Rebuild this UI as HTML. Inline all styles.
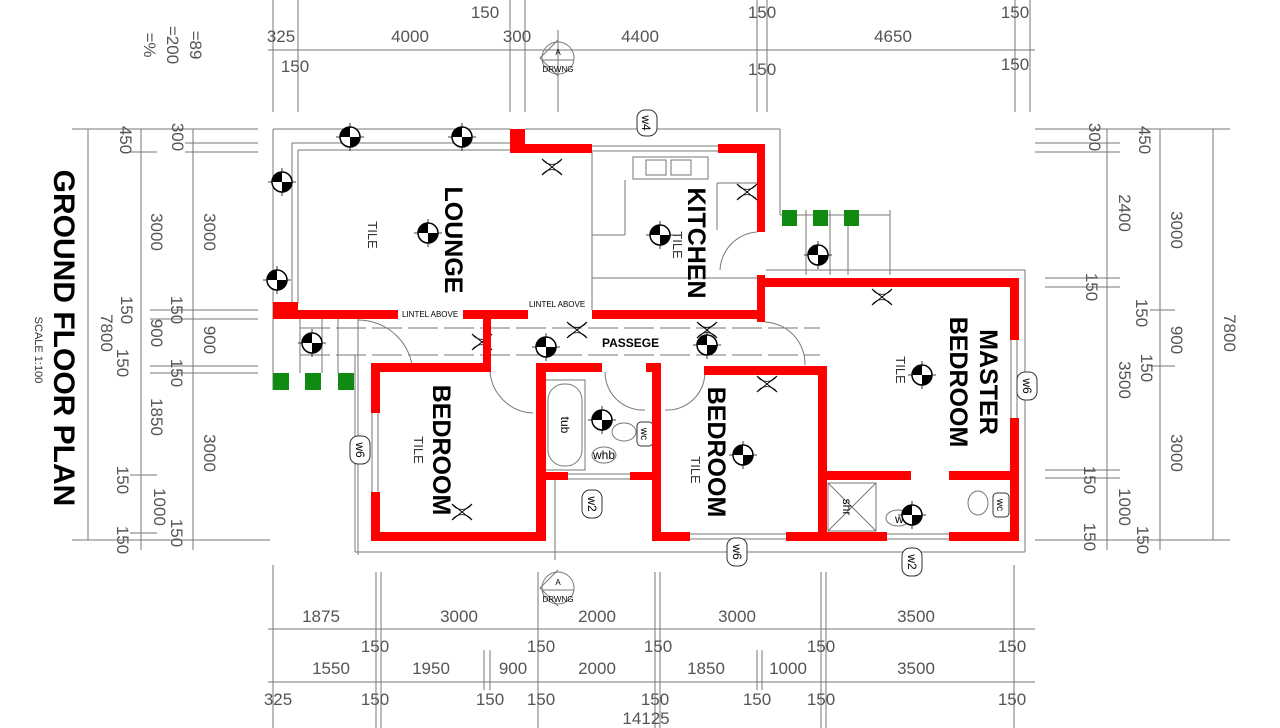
<!DOCTYPE html>
<html><head><meta charset="utf-8"><style>
html,body{margin:0;padding:0;background:#fff;}
svg{display:block;}
.d{font-family:"Liberation Sans",sans-serif;font-size:17px;fill:#555;}
.b{font-family:"Liberation Sans",sans-serif;font-weight:bold;fill:#000;}
</style></head><body>
<svg width="1280" height="728" viewBox="0 0 1280 728" xmlns="http://www.w3.org/2000/svg">
<defs>
<symbol id="L" viewBox="-12 -12 24 24" overflow="visible">
<line x1="-14" y1="0" x2="14" y2="0" stroke="#000" stroke-width="0.8"/>
<line x1="0" y1="-14" x2="0" y2="14" stroke="#000" stroke-width="0.8"/>
<circle r="10" fill="#fff" stroke="#000" stroke-width="1.5"/>
<path d="M0 0 L10 0 A10 10 0 0 1 0 10Z M0 0 L-10 0 A10 10 0 0 1 0 -10Z" fill="#000"/>
</symbol>
<symbol id="P" viewBox="0 0 24 30" overflow="visible">
<path d="M2 4 L12 12 L22 4 M2 20 L12 12 L22 20" stroke="#000" fill="none" stroke-width="1"/>
<path d="M2 4 A12 12 0 0 0 22 4 M2 20 A12 12 0 0 1 22 20" stroke="#000" fill="none" stroke-width="0.7"/>
</symbol>
</defs>
<g stroke="#777" stroke-width="1" fill="none">
<line x1="268" y1="50" x2="1035" y2="50"/>
<line x1="273" y1="0" x2="273" y2="112"/><line x1="298" y1="0" x2="298" y2="112"/>
<line x1="510" y1="0" x2="510" y2="112"/><line x1="525" y1="0" x2="525" y2="112"/>
<line x1="558" y1="30" x2="558" y2="112"/>
<line x1="757" y1="0" x2="757" y2="112"/><line x1="767" y1="0" x2="767" y2="112"/>
<line x1="1015" y1="0" x2="1015" y2="112"/><line x1="1030" y1="0" x2="1030" y2="112"/>
<line x1="88" y1="129" x2="88" y2="540"/><line x1="141" y1="129" x2="141" y2="550"/><line x1="193" y1="129" x2="193" y2="550"/>
<line x1="72" y1="129" x2="258" y2="129"/><line x1="72" y1="540" x2="270" y2="540"/>
<line x1="185" y1="143" x2="258" y2="143"/><line x1="185" y1="152" x2="258" y2="152"/>
<line x1="130" y1="152" x2="157" y2="152"/>
<line x1="150" y1="310" x2="258" y2="310"/><line x1="150" y1="319" x2="258" y2="319"/>
<line x1="150" y1="366" x2="258" y2="366"/><line x1="150" y1="373" x2="258" y2="373"/>
<line x1="130" y1="475" x2="157" y2="475"/><line x1="130" y1="533" x2="157" y2="533"/>
<line x1="1107" y1="129" x2="1107" y2="550"/><line x1="1160" y1="129" x2="1160" y2="550"/><line x1="1213" y1="129" x2="1213" y2="540"/>
<line x1="1035" y1="129" x2="1230" y2="129"/><line x1="1035" y1="540" x2="1230" y2="540"/>
<line x1="1035" y1="143" x2="1120" y2="143"/><line x1="1035" y1="152" x2="1120" y2="152"/>
<line x1="1045" y1="278" x2="1120" y2="278"/><line x1="1045" y1="287" x2="1120" y2="287"/>
<line x1="1045" y1="470" x2="1120" y2="470"/><line x1="1045" y1="478" x2="1120" y2="478"/>
<line x1="1150" y1="310" x2="1175" y2="310"/><line x1="1150" y1="366" x2="1175" y2="366"/>
<line x1="268" y1="629" x2="1035" y2="629"/><line x1="268" y1="682" x2="1035" y2="682"/>
<line x1="273" y1="565" x2="273" y2="728"/><line x1="376" y1="572" x2="376" y2="728"/><line x1="381" y1="572" x2="381" y2="728"/>
<line x1="538" y1="572" x2="538" y2="728"/><line x1="655" y1="572" x2="655" y2="728"/><line x1="660" y1="572" x2="660" y2="728"/>
<line x1="821" y1="572" x2="821" y2="728"/><line x1="826" y1="572" x2="826" y2="728"/>
<line x1="1014" y1="565" x2="1014" y2="728"/><line x1="484" y1="650" x2="484" y2="690"/><line x1="490" y1="650" x2="490" y2="690"/>
<line x1="757" y1="650" x2="757" y2="690"/><line x1="762" y1="650" x2="762" y2="690"/>
<line x1="273" y1="129" x2="510" y2="129"/><line x1="273" y1="129" x2="273" y2="390"/>
<line x1="292" y1="143" x2="510" y2="143"/><line x1="292" y1="143" x2="292" y2="303"/>
<line x1="298" y1="150" x2="510" y2="150"/><line x1="298" y1="150" x2="298" y2="303"/>
<line x1="525" y1="129" x2="780" y2="129"/><line x1="780" y1="129" x2="780" y2="215"/>
<line x1="766" y1="270" x2="1025" y2="270"/><line x1="1025" y1="270" x2="1025" y2="552"/>
<line x1="355" y1="552" x2="1025" y2="552"/><line x1="355" y1="355" x2="355" y2="552"/>
<line x1="300" y1="328" x2="820" y2="328" stroke-dasharray="30 6"/><line x1="300" y1="355" x2="820" y2="355" stroke-dasharray="30 6"/>
<line x1="555" y1="480" x2="555" y2="560"/>
<line x1="625" y1="180" x2="625" y2="235"/><line x1="592" y1="235" x2="625" y2="235"/>
<line x1="592" y1="278" x2="757" y2="278"/><line x1="592" y1="152" x2="592" y2="310"/>
<line x1="717" y1="183" x2="757" y2="183"/><line x1="717" y1="183" x2="717" y2="230"/>
<line x1="358" y1="319" x2="358" y2="555"/>
<path d="M757 232 A40 40 0 0 0 720 270"/>
<path d="M358 320 A55 55 0 0 1 413 372"/>
<path d="M490 372 A45 45 0 0 0 533 413"/>
<path d="M605 372 A38 38 0 0 0 645 410"/>
<path d="M705 372 A38 38 0 0 1 665 410"/>
<path d="M765 322 A42 42 0 0 1 805 365"/>
<line x1="300" y1="319" x2="300" y2="373"/><line x1="322" y1="319" x2="322" y2="373"/><line x1="338" y1="319" x2="338" y2="373"/>
<line x1="806" y1="210" x2="806" y2="275"/><line x1="830" y1="210" x2="830" y2="275"/><line x1="848" y1="210" x2="848" y2="275"/>
<line x1="780" y1="215" x2="890" y2="215"/><line x1="890" y1="210" x2="890" y2="275"/>
<circle cx="558" cy="58" r="16"/><line x1="542" y1="60" x2="574" y2="60"/><path d="M558 40 L540 58 L558 76"/>
<circle cx="558" cy="588" r="16"/><line x1="542" y1="590" x2="574" y2="590"/><path d="M558 570 L540 588 L558 606"/>
<rect x="548" y="384" width="34" height="82" rx="16"/>
<rect x="545" y="380" width="40" height="90"/>
<ellipse cx="624" cy="432" rx="12" ry="9"/><ellipse cx="604" cy="455" rx="12" ry="8"/>
<ellipse cx="978" cy="503" rx="10" ry="12"/><ellipse cx="898" cy="518" rx="12" ry="8"/>
<rect x="828" y="483" width="48" height="48"/><line x1="828" y1="483" x2="876" y2="531"/><line x1="876" y1="483" x2="828" y2="531"/>
<rect x="633" y="157" width="75" height="22"/><rect x="646" y="160" width="20" height="15"/><rect x="671" y="160" width="20" height="15"/>
<line x1="592" y1="146" x2="718" y2="146"/><line x1="592" y1="151" x2="718" y2="151"/>
<line x1="372" y1="413" x2="372" y2="492"/><line x1="378" y1="413" x2="378" y2="492"/>
<line x1="568" y1="474" x2="630" y2="474"/><line x1="568" y1="479" x2="630" y2="479"/>
<line x1="690" y1="534" x2="786" y2="534"/><line x1="690" y1="539" x2="786" y2="539"/>
<line x1="887" y1="534" x2="949" y2="534"/><line x1="887" y1="539" x2="949" y2="539"/>
<line x1="1011" y1="340" x2="1011" y2="418"/><line x1="1017" y1="340" x2="1017" y2="418"/>
</g>
<use href="#P" x="540" y="155" width="24" height="30"/>
<use href="#P" x="735" y="180" width="24" height="30"/>
<use href="#P" x="870" y="285" width="24" height="30"/>
<use href="#P" x="470" y="330" width="24" height="30"/>
<use href="#P" x="565" y="318" width="24" height="30"/>
<use href="#P" x="695" y="318" width="24" height="30"/>
<use href="#P" x="755" y="372" width="24" height="30"/>
<use href="#P" x="450" y="500" width="24" height="30"/>
<g fill="#fff" stroke="#333" stroke-width="1">
<rect x="637" y="110" width="20" height="26" rx="8"/>
<rect x="350" y="436" width="20" height="28" rx="8"/>
<rect x="582" y="490" width="20" height="28" rx="8"/>
<rect x="727" y="538" width="20" height="28" rx="8"/>
<rect x="902" y="548" width="20" height="28" rx="8"/>
<rect x="1017" y="372" width="20" height="28" rx="8"/>
<rect x="637" y="422" width="16" height="24" rx="4"/>
<rect x="993" y="493" width="16" height="24" rx="4"/>
</g>
<g font-family="Liberation Sans, sans-serif" font-size="12" fill="#000">
<text transform="translate(642,123) rotate(90)" text-anchor="middle">w4</text>
<text transform="translate(356,450) rotate(90)" text-anchor="middle">w6</text>
<text transform="translate(588,504) rotate(90)" text-anchor="middle">w2</text>
<text transform="translate(733,552) rotate(90)" text-anchor="middle">w6</text>
<text transform="translate(908,562) rotate(90)" text-anchor="middle">w2</text>
<text transform="translate(1023,386) rotate(90)" text-anchor="middle">w6</text>
<text transform="translate(641,434) rotate(90)" text-anchor="middle" font-size="10">wc</text>
<text transform="translate(997,505) rotate(90)" text-anchor="middle" font-size="10">wc</text>
<text transform="translate(561,425) rotate(90)" text-anchor="middle">tub</text>
<text x="604" y="459" text-anchor="middle">whb</text>
<text x="906" y="523" text-anchor="middle">whb</text>
<text transform="translate(843,507) rotate(90)" text-anchor="middle">shr</text>
<text x="558" y="55" text-anchor="middle" font-size="8">A</text><text x="558" y="72" text-anchor="middle" font-size="8">DRWNG</text>
<text x="558" y="585" text-anchor="middle" font-size="8">A</text><text x="558" y="602" text-anchor="middle" font-size="8">DRWNG</text>
<text x="402" y="317" font-size="8">LINTEL ABOVE</text>
<text x="529" y="307" font-size="8">LINTEL ABOVE</text>
</g>
<g fill="#f00">
<rect x="510" y="129" width="15" height="24"/>
<rect x="510" y="144" width="82" height="9"/>
<rect x="718" y="144" width="47" height="9"/>
<rect x="757" y="144" width="8" height="88"/>
<rect x="757" y="275" width="8" height="47"/>
<rect x="757" y="278" width="262" height="9"/>
<rect x="1010" y="278" width="9" height="62"/>
<rect x="1010" y="418" width="9" height="122"/>
<rect x="273" y="302" width="25" height="17"/>
<rect x="273" y="310" width="125" height="9"/>
<rect x="463" y="310" width="65" height="9"/>
<rect x="592" y="310" width="173" height="9"/>
<rect x="483" y="310" width="8" height="62"/>
<rect x="371" y="363" width="120" height="9"/>
<rect x="371" y="363" width="9" height="50"/>
<rect x="371" y="492" width="9" height="48"/>
<rect x="371" y="532" width="175" height="9"/>
<rect x="536" y="363" width="10" height="177"/>
<rect x="536" y="363" width="66" height="9"/>
<rect x="646" y="363" width="15" height="9"/>
<rect x="652" y="363" width="9" height="177"/>
<rect x="536" y="472" width="32" height="8"/>
<rect x="630" y="472" width="30" height="8"/>
<rect x="704" y="366" width="123" height="9"/>
<rect x="818" y="366" width="9" height="174"/>
<rect x="652" y="532" width="38" height="9"/>
<rect x="786" y="532" width="101" height="9"/>
<rect x="949" y="532" width="70" height="9"/>
<rect x="818" y="471" width="93" height="9"/>
<rect x="949" y="471" width="70" height="9"/>
</g>
<g fill="#118a11">
<rect x="273" y="373" width="16" height="17"/><rect x="305" y="373" width="16" height="17"/><rect x="338" y="373" width="16" height="17"/>
<rect x="782" y="210" width="15" height="16"/><rect x="813" y="210" width="15" height="16"/><rect x="844" y="210" width="15" height="16"/>
</g>
<use href="#L" x="338" y="125" width="24" height="24"/>
<use href="#L" x="450" y="125" width="24" height="24"/>
<use href="#L" x="270" y="170" width="24" height="24"/>
<use href="#L" x="265" y="268" width="24" height="24"/>
<use href="#L" x="416" y="221" width="24" height="24"/>
<use href="#L" x="648" y="223" width="24" height="24"/>
<use href="#L" x="806" y="243" width="24" height="24"/>
<use href="#L" x="300" y="331" width="24" height="24"/>
<use href="#L" x="534" y="335" width="24" height="24"/>
<use href="#L" x="695" y="333" width="24" height="24"/>
<use href="#L" x="590" y="408" width="24" height="24"/>
<use href="#L" x="731" y="443" width="24" height="24"/>
<use href="#L" x="910" y="363" width="24" height="24"/>
<use href="#L" x="900" y="503" width="24" height="24"/>
<g class="b" font-size="25">
<text transform="translate(445,240) rotate(90)" text-anchor="middle">LOUNGE</text>
<text transform="translate(688,243) rotate(90)" text-anchor="middle">KITCHEN</text>
<text transform="translate(433,450) rotate(90)" text-anchor="middle">BEDROOM</text>
<text transform="translate(708,452) rotate(90)" text-anchor="middle">BEDROOM</text>
<text transform="translate(980,382) rotate(90)" text-anchor="middle">MASTER</text>
<text transform="translate(950,382) rotate(90)" text-anchor="middle">BEDROOM</text>
<text x="602" y="347" font-size="12">PASSEGE</text>
<text transform="translate(54,338) rotate(90)" text-anchor="middle" font-size="30">GROUND FLOOR PLAN</text>
</g>
<g font-family="Liberation Sans, sans-serif" font-size="13" fill="#333">
<text transform="translate(368,235) rotate(90)" text-anchor="middle">TILE</text>
<text transform="translate(673,245) rotate(90)" text-anchor="middle">TILE</text>
<text transform="translate(414,450) rotate(90)" text-anchor="middle">TILE</text>
<text transform="translate(691,470) rotate(90)" text-anchor="middle">TILE</text>
<text transform="translate(896,370) rotate(90)" text-anchor="middle">TILE</text>
<text transform="translate(35,350) rotate(90)" text-anchor="middle" font-size="11">SCALE 1:100</text>
</g>
<g class="d" font-size="20" fill="#222">
<text transform="translate(190,45) rotate(90)" text-anchor="middle">=89</text>
<text transform="translate(167,45) rotate(90)" text-anchor="middle">=200</text>
<text transform="translate(144,45) rotate(90)" text-anchor="middle">=%</text>
</g>
<g class="d" text-anchor="middle">
<text x="281" y="42">325</text><text x="295" y="72">150</text><text x="410" y="42">4000</text><text x="517" y="42">300</text>
<text x="485" y="18">150</text><text x="640" y="42">4400</text><text x="762" y="18">150</text><text x="762" y="75">150</text>
<text x="893" y="42">4650</text><text x="1015" y="18">150</text><text x="1015" y="70">150</text>
<text x="321" y="622">1875</text><text x="459" y="622">3000</text><text x="597" y="622">2000</text><text x="737" y="622">3000</text><text x="916" y="622">3500</text>
<text x="375" y="652">150</text><text x="541" y="652">150</text><text x="658" y="652">150</text><text x="821" y="652">150</text><text x="1012" y="652">150</text>
<text x="331" y="674">1550</text><text x="431" y="674">1950</text><text x="513" y="674">900</text><text x="597" y="674">2000</text><text x="706" y="674">1850</text><text x="788" y="674">1000</text><text x="916" y="674">3500</text>
<text x="278" y="705">325</text><text x="375" y="705">150</text><text x="490" y="705">150</text><text x="541" y="705">150</text><text x="655" y="705">150</text><text x="757" y="705">150</text><text x="821" y="705">150</text><text x="1012" y="705">150</text>
<text x="646" y="724">14125</text>
</g>
<g class="d" text-anchor="middle">
<text transform="translate(172,137) rotate(90)">300</text>
<text transform="translate(120,140) rotate(90)">450</text>
<text transform="translate(151,232) rotate(90)">3000</text>
<text transform="translate(204,232) rotate(90)">3000</text>
<text transform="translate(171,310) rotate(90)">150</text>
<text transform="translate(121,310) rotate(90)">150</text>
<text transform="translate(101,333) rotate(90)">7800</text>
<text transform="translate(151,333) rotate(90)">900</text>
<text transform="translate(204,340) rotate(90)">900</text>
<text transform="translate(117,363) rotate(90)">150</text>
<text transform="translate(171,373) rotate(90)">150</text>
<text transform="translate(151,417) rotate(90)">1850</text>
<text transform="translate(204,453) rotate(90)">3000</text>
<text transform="translate(117,480) rotate(90)">150</text>
<text transform="translate(154,507) rotate(90)">1000</text>
<text transform="translate(171,533) rotate(90)">150</text>
<text transform="translate(117,540) rotate(90)">150</text>
<text transform="translate(1089,137) rotate(90)">300</text>
<text transform="translate(1139,140) rotate(90)">450</text>
<text transform="translate(1119,213) rotate(90)">2400</text>
<text transform="translate(1171,230) rotate(90)">3000</text>
<text transform="translate(1086,287) rotate(90)">150</text>
<text transform="translate(1224,333) rotate(90)">7800</text>
<text transform="translate(1136,313) rotate(90)">150</text>
<text transform="translate(1171,340) rotate(90)">900</text>
<text transform="translate(1141,368) rotate(90)">150</text>
<text transform="translate(1119,380) rotate(90)">3500</text>
<text transform="translate(1171,453) rotate(90)">3000</text>
<text transform="translate(1084,480) rotate(90)">150</text>
<text transform="translate(1119,507) rotate(90)">1000</text>
<text transform="translate(1084,537) rotate(90)">150</text>
<text transform="translate(1137,540) rotate(90)">150</text>
</g>
</svg>
</body></html>
